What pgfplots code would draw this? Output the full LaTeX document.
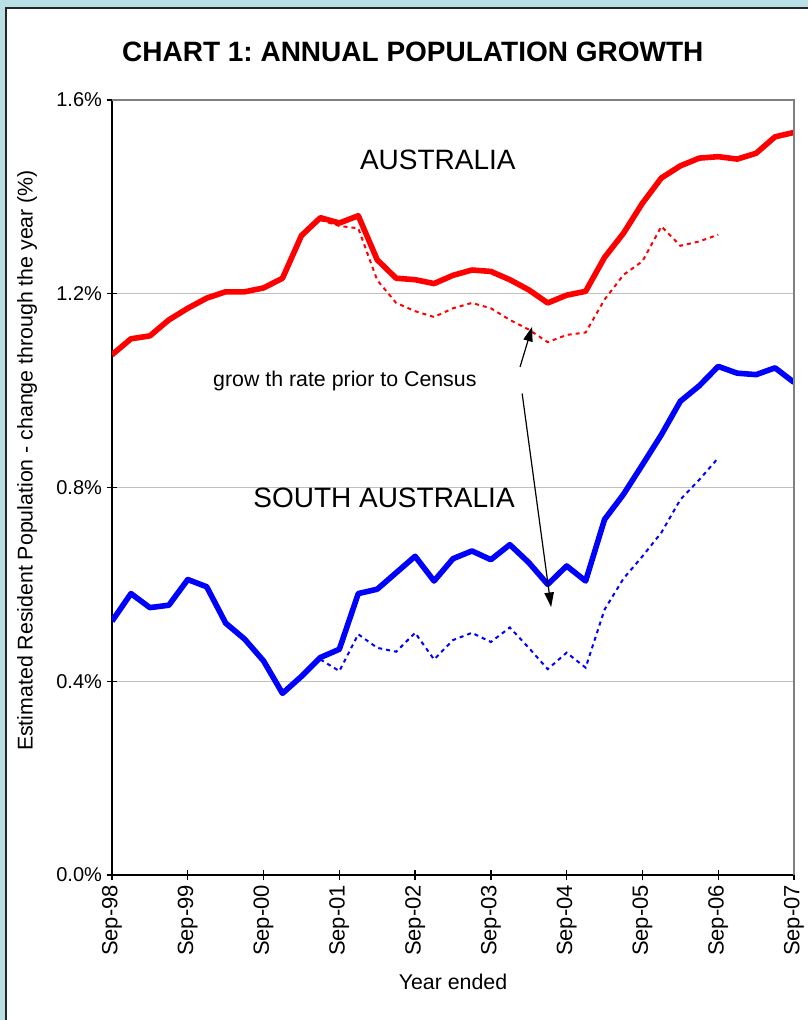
\documentclass[border=0pt]{standalone}
\usepackage{fontspec}
\setmainfont{Liberation Sans}
\usepackage{pgfplots}
\usepackage{pgfplotstable}
\pgfplotsset{compat=1.18}
\usetikzlibrary{arrows.meta}
\frenchspacing

\definecolor{framecyan}{RGB}{185,224,228}
\definecolor{gridgray}{RGB}{192,192,192}
\definecolor{boxgray}{RGB}{128,128,128}

% quarterly, k=0 is Sep-98, k=36 is Sep-07
\pgfplotstableread{
k aus sa
0 1.074 0.524
1 1.107 0.581
2 1.113 0.552
3 1.146 0.557
4 1.170 0.610
5 1.191 0.595
6 1.204 0.520
7 1.204 0.487
8 1.212 0.442
9 1.232 0.375
10 1.320 0.410
11 1.357 0.449
12 1.346 0.466
13 1.361 0.581
14 1.270 0.590
15 1.232 0.624
16 1.229 0.658
17 1.221 0.607
18 1.238 0.653
19 1.249 0.669
20 1.246 0.651
21 1.229 0.682
22 1.208 0.645
23 1.181 0.600
24 1.197 0.638
25 1.205 0.607
26 1.275 0.734
27 1.325 0.786
28 1.387 0.847
29 1.439 0.909
30 1.464 0.978
31 1.480 1.010
32 1.483 1.050
33 1.478 1.036
34 1.490 1.033
35 1.524 1.047
36 1.533 1.017
}\current

% growth rate prior to Census revisions
\pgfplotstableread{
k aus sa
11 1.352 0.445
12 1.340 0.421
13 1.335 0.497
14 1.228 0.469
15 1.181 0.461
16 1.164 0.500
17 1.152 0.445
18 1.170 0.485
19 1.181 0.500
20 1.170 0.481
21 1.146 0.511
22 1.126 0.469
23 1.100 0.425
24 1.115 0.459
25 1.120 0.428
26 1.188 0.548
27 1.239 0.612
28 1.267 0.658
29 1.339 0.707
30 1.299 0.775
31 1.308 0.816
32 1.322 0.861
}\prior

\begin{document}
\begin{tikzpicture}
\fill[framecyan] (-84pt,-108.75pt) rectangle (522pt,656.25pt);
\fill[white] (-79.5pt,-108.75pt) rectangle (522pt,650.25pt);
\draw[black!85, line width=1.5pt] (-79.5pt,-108.75pt) -- (-79.5pt,650.25pt) -- (522pt,650.25pt);

\begin{axis}[
    scale only axis,
    width=511.5pt, height=581.25pt,
    at={(0pt,0pt)}, anchor=south west,
    xmin=0, xmax=36, ymin=0, ymax=1.6,
    axis x line*=bottom, axis y line*=left,
    axis line style={black, line width=1.1pt},
    xtick={0,4,...,36},
    xticklabels={Sep-98,Sep-99,Sep-00,Sep-01,Sep-02,Sep-03,Sep-04,Sep-05,Sep-06,Sep-07},
    ytick={0,0.4,0.8,1.2,1.6},
    yticklabel={\pgfmathprintnumber[fixed,fixed zerofill,precision=1]{\tick}\%},
    /pgf/number format/assume math mode=true,
    tick align=center, major tick length=8pt,
    tick style={black, line width=1pt},
    ymajorgrids, grid style={gridgray, line width=1.1pt},
    yticklabel style={font=\fontsize{15}{18}\selectfont},
    xticklabel style={font=\fontsize{16.5}{19}\selectfont, rotate=90, anchor=east},
    title={CHART 1: ANNUAL POPULATION GROWTH},
    title style={font=\fontsize{21}{25}\selectfont\bfseries,
        at={(axis description cs:0.441,1.052)}, anchor=center},
    ylabel={Estimated Resident Population - change through the year (\%)},
    ylabel style={font=\fontsize{16}{19}\selectfont,
        at={(axis description cs:-0.1246,0.535)}, anchor=center},
    xlabel={Year ended},
    xlabel style={font=\fontsize{16}{19}\selectfont,
        at={(axis description cs:0.5,-0.138)}, anchor=center},
    clip mode=individual,
]
\addplot[red, line width=1.5pt, dash pattern=on 3pt off 3pt] table[x=k, y=aus] {\prior};
\addplot[blue, line width=1.5pt, dash pattern=on 3pt off 3pt] table[x=k, y=sa] {\prior};
\addplot[red, line width=4.2pt, line join=round] table[x=k, y=aus] {\current};
\addplot[blue, line width=4.2pt, line join=round] table[x=k, y=sa] {\current};

\draw[boxgray, line width=1.1pt] (rel axis cs:0,1) -- (rel axis cs:1,1) -- (rel axis cs:1,0);

\node[font=\fontsize{21}{25}\selectfont] at (axis cs:17.2,1.476) {AUSTRALIA};
\node[font=\fontsize{21}{25}\selectfont] at (axis cs:14.36,0.779) {SOUTH AUSTRALIA};
\node[anchor=west, inner sep=0pt, font=\fontsize{16}{19}\selectfont] at (axis cs:5.33,1.019) {grow th rate prior to Census};

\draw[-{Triangle[length=11pt,width=7pt]}, line width=0.9pt] (axis cs:21.54,1.049) -- (axis cs:22.18,1.132);
\draw[-{Triangle[length=11pt,width=7pt]}, line width=0.9pt] (axis cs:21.65,0.994) -- (axis cs:23.18,0.553);
\end{axis}

\pgfresetboundingbox
\useasboundingbox (-84pt,-108.75pt) rectangle (522pt,656.25pt);
\end{tikzpicture}
\end{document}
